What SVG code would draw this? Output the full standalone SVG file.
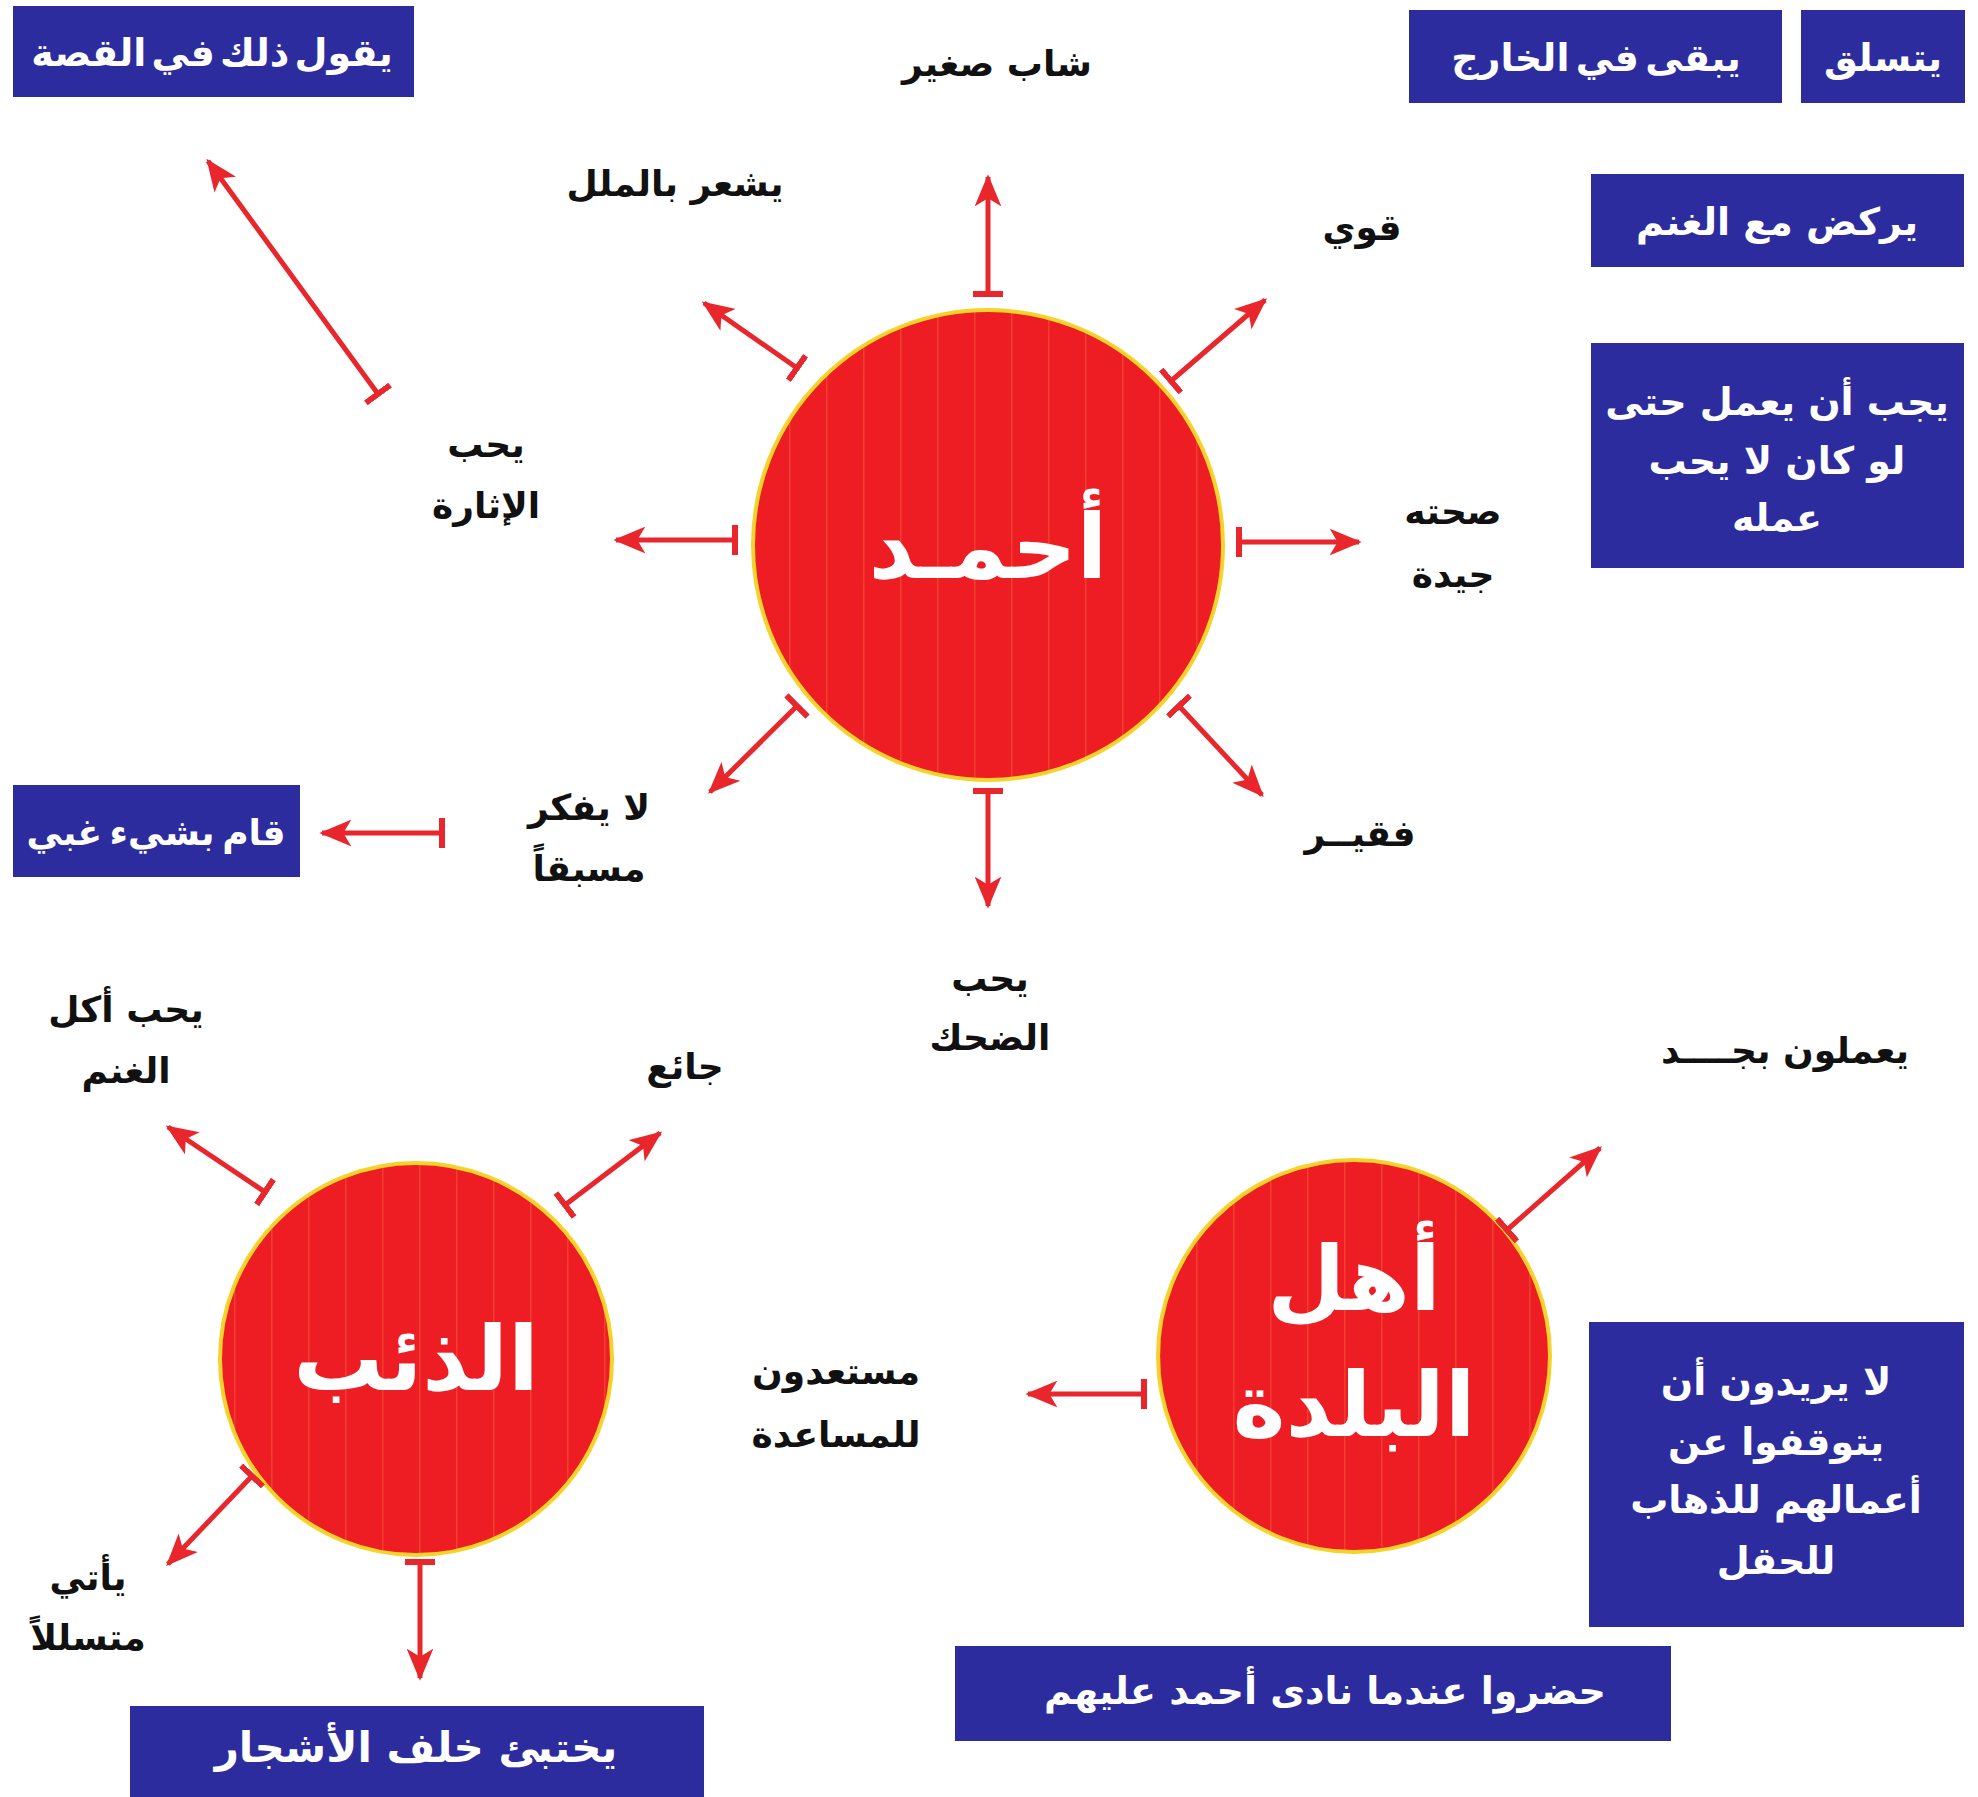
<svg xmlns="http://www.w3.org/2000/svg" width="1978" height="1797" viewBox="0 0 1978 1797">
<defs>
<style>
.box{fill:#2D2C9E;}
.bt{fill:#FFFFFF;font-family:"DejaVu Sans",sans-serif;font-weight:bold;font-size:38px;text-anchor:middle;}
.lb{fill:#111111;font-family:"DejaVu Sans",sans-serif;font-weight:bold;font-size:36px;text-anchor:middle;}
.ct{fill:#FFFFFF;font-family:"DejaVu Sans",sans-serif;font-weight:bold;font-size:90px;text-anchor:middle;}
.circ{stroke:#F6D32A;stroke-width:4;fill:url(#stripes);}
.con{stroke:#E8262B;stroke-width:5;fill:none;marker-start:url(#tee);marker-end:url(#head);}
</style>
<marker id="head" viewBox="0 0 12 10" refX="11" refY="5" markerWidth="6.4" markerHeight="5.4" orient="auto" markerUnits="strokeWidth">
<path d="M0,0 L12,5 L0,10 L3,5 Z" fill="#E8262B"/>
</marker>
<marker id="tee" viewBox="0 0 2 10" refX="1" refY="5" markerWidth="1.2" markerHeight="7" orient="auto" markerUnits="strokeWidth">
<rect x="0" y="0" width="2" height="10" fill="#E8262B"/>
</marker>
<pattern id="stripes" width="37" height="40" patternUnits="userSpaceOnUse">
<rect width="37" height="40" fill="#EE1D23"/>
<rect x="12" width="1.5" height="40" fill="#F5603A" opacity="0.5"/>
</pattern>
</defs>

<g id="node-ahmad">
<circle class="circ" cx="988" cy="545" r="235"/>
<text class="ct" x="988" y="578">أحمـد</text>
</g>
<g id="node-wolf">
<circle class="circ" cx="416" cy="1359" r="196"/>
<text class="ct" x="416" y="1390">الذئب</text>
</g>
<g id="node-people">
<circle class="circ" cx="1354" cy="1356" r="196"/>
<text class="ct" x="1354" y="1310">أهل</text>
<text class="ct" x="1354" y="1436">البلدة</text>
</g>

<g id="box-says-in-story"><rect class="box" x="13" y="6" width="401" height="91"/><text class="bt" x="212" y="66" style="word-spacing:-8px">يقول ذلك في القصة</text></g>
<g id="box-did-stupid"><rect class="box" x="13" y="785" width="287" height="92"/><text class="bt" x="156" y="845" style="font-size:36px;word-spacing:-5px">قام بشيء غبي</text></g>
<g id="box-climbs"><rect class="box" x="1801" y="10" width="164" height="93"/><text class="bt" x="1883" y="71">يتسلق</text></g>
<g id="box-stays-out"><rect class="box" x="1409" y="10" width="373" height="93"/><text class="bt" x="1596" y="71" style="word-spacing:-7px">يبقى في الخارج</text></g>
<g id="box-runs-sheep"><rect class="box" x="1591" y="174" width="373" height="93"/><text class="bt" x="1777" y="235">يركض مع الغنم</text></g>
<g id="box-must-work"><rect class="box" x="1591" y="343" width="373" height="225"/>
<text class="bt" x="1777" y="415">يجب أن يعمل حتى</text>
<text class="bt" x="1777" y="474">لو كان لا يحب</text>
<text class="bt" x="1777" y="531">عمله</text></g>
<g id="box-hides"><rect class="box" x="130" y="1706" width="574" height="95"/><text class="bt" x="416" y="1762" style="font-size:42px">يختبئ خلف الأشجار</text></g>
<g id="box-dont-want"><rect class="box" x="1589" y="1322" width="375" height="305"/>
<text class="bt" x="1776" y="1395">لا يريدون أن</text>
<text class="bt" x="1776" y="1455">يتوقفوا عن</text>
<text class="bt" x="1776" y="1513">أعمالهم للذهاب</text>
<text class="bt" x="1776" y="1574">للحقل</text></g>
<g id="box-came"><rect class="box" x="955" y="1646" width="716" height="95"/><text class="bt" x="1325" y="1704">حضروا عندما نادى أحمد عليهم</text></g>

<g id="labels">
<text class="lb" x="997" y="76">شاب صغير</text>
<text class="lb" x="675" y="196">يشعر بالملل</text>
<text class="lb" x="1362" y="240">قوي</text>
<text class="lb" x="486" y="457">يحب</text>
<text class="lb" x="486" y="518">الإثارة</text>
<text class="lb" x="1453" y="524">صحته</text>
<text class="lb" x="1453" y="587">جيدة</text>
<text class="lb" x="589" y="820">لا يفكر</text>
<text class="lb" x="589" y="881">مسبقاً</text>
<text class="lb" x="1360" y="846">فقيــر</text>
<text class="lb" x="990" y="991">يحب</text>
<text class="lb" x="990" y="1050">الضحك</text>
<text class="lb" x="126" y="1022">يحب أكل</text>
<text class="lb" x="126" y="1083">الغنم</text>
<text class="lb" x="685" y="1079">جائع</text>
<text class="lb" x="88" y="1590">يأتي</text>
<text class="lb" x="88" y="1650">متسللاً</text>
<text class="lb" x="1785" y="1063">يعملون بجــــد</text>
<text class="lb" x="836" y="1384">مستعدون</text>
<text class="lb" x="836" y="1447">للمساعدة</text>
</g>

<g id="connectors">
<line class="con" x1="378" y1="394" x2="208" y2="161"/>
<line class="con" x1="988" y1="294" x2="988" y2="177"/>
<line class="con" x1="797" y1="368" x2="704" y2="303"/>
<line class="con" x1="1171" y1="381" x2="1265" y2="300"/>
<line class="con" x1="735" y1="540" x2="616" y2="540"/>
<line class="con" x1="1239" y1="542" x2="1359" y2="542"/>
<line class="con" x1="797" y1="706" x2="710" y2="792"/>
<line class="con" x1="988" y1="791" x2="988" y2="906"/>
<line class="con" x1="1179" y1="706" x2="1262" y2="795"/>
<line class="con" x1="442" y1="833" x2="322" y2="833"/>
<line class="con" x1="265" y1="1192" x2="168" y2="1127"/>
<line class="con" x1="565" y1="1205" x2="660" y2="1133"/>
<line class="con" x1="252" y1="1476" x2="168" y2="1564"/>
<line class="con" x1="420" y1="1562" x2="420" y2="1678"/>
<line class="con" x1="1507" y1="1230" x2="1600" y2="1148"/>
<line class="con" x1="1144" y1="1394" x2="1028" y2="1394"/>
</g>
</svg>
